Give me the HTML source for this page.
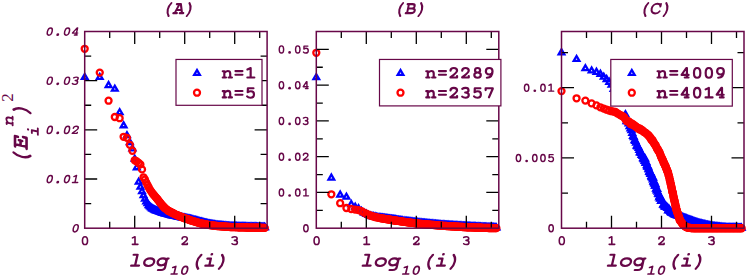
<!DOCTYPE html>
<html><head><meta charset="utf-8"><title>plot</title><style>
html,body{margin:0;padding:0;background:#fff}
svg{display:block}
.sup2{font-family:"Liberation Serif",serif;font-weight:normal;font-size:17px;fill:#670748}
</style></head><body><svg width="747" height="278" viewBox="0 0 747 278"><rect width="747" height="278" fill="#fff"/><defs><path id="t" d="M0,-3.29 L-2.85,1.65 L2.85,1.65 Z" fill="none" stroke="#0000ff" stroke-width="2.3" stroke-linejoin="miter"/><circle id="c" r="3.0" fill="none" stroke="#ff0000" stroke-width="2.3"/><g id="g48"><path d="M300-566C190-566 137-460 137-300C137-140 190-35 300-35C410-35 463-140 463-300C463-460 410-566 300-566Z"/></g><g id="g49"><path d="M300-50L300-566L135-486M131-50L489-50"/></g><g id="g50"><path d="M113-420C113-510 195-566 285-566C380-566 449-505 449-420C449-330 370-270 111-62L111-50L449-50L449-125"/></g><g id="g51"><path d="M115-515C160-550 220-566 285-566C375-566 437-512 437-440C437-365 375-318 265-318C385-318 451-262 451-180C451-92 380-35 280-35C200-35 145-58 113-95"/></g><g id="g52"><path d="M375-50L375-566L345-566L103-200L103-190L460-190M265-50L457-50"/></g><g id="g53"><path d="M445-551L160-551L150-325C200-368 255-385 310-385C408-385 471-312 471-212C471-105 398-35 290-35C212-35 152-62 120-105"/></g><g id="g55"><path d="M115-445L115-551L479-551L479-520L285-50"/></g><g id="g56"><path d="M300-566C215-566 170-510 170-440C170-365 225-318 300-318C375-318 430-365 430-440C430-510 385-566 300-566ZM300-318C200-318 134-258 134-178C134-95 200-35 300-35C400-35 466-95 466-178C466-258 400-318 300-318Z"/></g><g id="g57"><path d="M468-390C468-285 395-215 297-215C195-215 125-290 125-390C125-492 195-566 297-566C400-566 468-492 468-390C468-190 385-48 180-38"/></g><g id="g46"><circle cx="300" cy="-78" r="100" fill="currentColor" stroke="none"/></g><g id="g61"><path d="M121-397L479-397M121-195L479-195"/></g><g id="g110"><path d="M70-389L150-389L150-50M150-290C200-370 260-404 325-404C410-404 452-355 452-270L452-50M70-50L235-50M370-50L540-50"/></g><g id="g108"><path d="M127-576L300-576L300-50M127-50L473-50"/></g><g id="g111"><path d="M300-404C170-404 80-325 80-220C80-115 170-35 300-35C430-35 520-115 520-220C520-325 430-404 300-404Z"/></g><g id="g103"><path d="M275-404C160-404 80-330 80-232C80-135 160-62 275-62C390-62 465-135 465-232C465-330 390-404 275-404ZM530-389L465-389L465 30C465 115 410 158 320 158L175 158"/></g><g id="g105"><path d="M147-389L300-389L300-50M127-50L473-50"/><circle cx="300" cy="-600" r="62" fill="currentColor" stroke="none"/></g><g id="g40"><path d="M431-566C345-465 315-350 315-232C315-115 345-0 431 100"/></g><g id="g41"><path d="M169-566C255-465 285-350 285-232C285-115 255-0 169 100"/></g><g id="g69"><path d="M75-512L480-512L480-395M160-512L160-50M160-290L350-290M350-355L350-225M75-50L510-50L510-190"/></g><g id="g65"><path d="M125-512L335-512L490-50M265-512L110-50M170-205L430-205M41-50L225-50M375-50L559-50"/></g><g id="g66"><path d="M80-512L330-512C425-512 468-462 468-402C468-335 420-290 330-290L150-290M150-512L150-50M330-290C455-290 523-245 523-170C523-92 455-50 350-50L80-50"/></g><g id="g67"><path d="M500-385L500-512M500-430C455-500 385-530 310-530C170-530 72-425 72-281C72-140 170-32 310-32C400-32 470-68 510-140"/></g></defs><use href="#t" x="84.7" y="77.3"/><use href="#t" x="99.75" y="77.3"/><use href="#t" x="108.56" y="85.4"/><use href="#t" x="114.8" y="89"/><use href="#t" x="119.65" y="112.5"/><use href="#t" x="123.61" y="125.6"/><use href="#t" x="126.95" y="135.5"/><use href="#t" x="129.85" y="142.5"/><use href="#t" x="132.41" y="148.8"/><use href="#t" x="134.7" y="159"/><use href="#t" x="136.77" y="167.6"/><use href="#t" x="138.66" y="182"/><use href="#t" x="140.4" y="187"/><use href="#t" x="142.01" y="191.5"/><use href="#t" x="143.5" y="195.5"/><use href="#t" x="144.91" y="199"/><use href="#t" x="146.22" y="201.8"/><use href="#t" x="147.46" y="203.55"/><use href="#t" x="148.64" y="205.39"/><use href="#t" x="149.75" y="206.57"/><use href="#t" x="150.81" y="207.53"/><use href="#t" x="151.82" y="208.44"/><use href="#t" x="152.79" y="209.04"/><use href="#t" x="153.71" y="209.56"/><use href="#t" x="154.6" y="210.06"/><use href="#t" x="155.45" y="210.49"/><use href="#t" x="156.27" y="210.77"/><use href="#t" x="157.06" y="211.04"/><use href="#t" x="157.82" y="211.31"/><use href="#t" x="158.56" y="211.56"/><use href="#t" x="159.27" y="211.81"/><use href="#t" x="159.96" y="212.05"/><use href="#t" x="160.63" y="212.28"/><use href="#t" x="161.27" y="212.51"/><use href="#t" x="161.9" y="212.72"/><use href="#t" x="162.52" y="212.94"/><use href="#t" x="163.11" y="213.12"/><use href="#t" x="163.69" y="213.29"/><use href="#t" x="164.25" y="213.45"/><use href="#t" x="164.8" y="213.61"/><use href="#t" x="165.86" y="213.92"/><use href="#t" x="166.87" y="214.21"/><use href="#t" x="167.84" y="214.49"/><use href="#t" x="168.76" y="214.75"/><use href="#t" x="169.65" y="215.01"/><use href="#t" x="170.5" y="215.24"/><use href="#t" x="171.32" y="215.42"/><use href="#t" x="172.11" y="215.59"/><use href="#t" x="173.24" y="215.84"/><use href="#t" x="174.32" y="216.07"/><use href="#t" x="175.35" y="216.29"/><use href="#t" x="176.33" y="216.5"/><use href="#t" x="177.26" y="216.71"/><use href="#t" x="178.16" y="216.9"/><use href="#t" x="179.02" y="217.09"/><use href="#t" x="179.85" y="217.27"/><use href="#t" x="180.65" y="217.42"/><use href="#t" x="181.68" y="217.62"/><use href="#t" x="182.65" y="217.8"/><use href="#t" x="183.59" y="217.98"/><use href="#t" x="184.48" y="218.15"/><use href="#t" x="185.34" y="218.31"/><use href="#t" x="186.17" y="218.47"/><use href="#t" x="186.97" y="218.62"/><use href="#t" x="187.92" y="218.81"/><use href="#t" x="188.84" y="218.98"/><use href="#t" x="189.72" y="219.15"/><use href="#t" x="190.56" y="219.35"/><use href="#t" x="191.38" y="219.57"/><use href="#t" x="192.16" y="219.78"/><use href="#t" x="193.07" y="220.02"/><use href="#t" x="193.93" y="220.25"/><use href="#t" x="194.77" y="220.47"/><use href="#t" x="195.57" y="220.69"/><use href="#t" x="196.35" y="220.89"/><use href="#t" x="197.22" y="221.13"/><use href="#t" x="198.06" y="221.35"/><use href="#t" x="198.87" y="221.56"/><use href="#t" x="199.64" y="221.77"/><use href="#t" x="200.5" y="222"/><use href="#t" x="201.32" y="222.2"/><use href="#t" x="202.12" y="222.4"/><use href="#t" x="202.97" y="222.61"/><use href="#t" x="203.8" y="222.82"/><use href="#t" x="204.6" y="223.01"/><use href="#t" x="205.45" y="223.22"/><use href="#t" x="206.27" y="223.42"/><use href="#t" x="207.06" y="223.62"/><use href="#t" x="207.89" y="223.83"/><use href="#t" x="208.7" y="224.02"/><use href="#t" x="209.55" y="224.15"/><use href="#t" x="210.36" y="224.28"/><use href="#t" x="211.21" y="224.42"/><use href="#t" x="212.03" y="224.55"/><use href="#t" x="212.87" y="224.69"/><use href="#t" x="213.69" y="224.82"/><use href="#t" x="214.53" y="224.95"/><use href="#t" x="215.34" y="225.08"/><use href="#t" x="216.17" y="225.22"/><use href="#t" x="216.97" y="225.33"/><use href="#t" x="217.79" y="225.4"/><use href="#t" x="218.63" y="225.48"/><use href="#t" x="219.43" y="225.55"/><use href="#t" x="220.25" y="225.63"/><use href="#t" x="221.08" y="225.7"/><use href="#t" x="221.88" y="225.78"/><use href="#t" x="222.68" y="225.85"/><use href="#t" x="223.5" y="225.93"/><use href="#t" x="224.32" y="226"/><use href="#t" x="225.14" y="226.08"/><use href="#t" x="225.97" y="226.16"/><use href="#t" x="226.77" y="226.23"/><use href="#t" x="227.57" y="226.3"/><use href="#t" x="228.37" y="226.38"/><use href="#t" x="229.17" y="226.45"/><use href="#t" x="229.99" y="226.51"/><use href="#t" x="230.81" y="226.53"/><use href="#t" x="231.63" y="226.56"/><use href="#t" x="232.44" y="226.58"/><use href="#t" x="233.24" y="226.6"/><use href="#t" x="234.06" y="226.63"/><use href="#t" x="234.87" y="226.65"/><use href="#t" x="235.68" y="226.68"/><use href="#t" x="236.49" y="226.7"/><use href="#t" x="237.3" y="226.72"/><use href="#t" x="238.11" y="226.75"/><use href="#t" x="238.91" y="226.77"/><use href="#t" x="239.72" y="226.8"/><use href="#t" x="240.53" y="226.82"/><use href="#t" x="241.34" y="226.84"/><use href="#t" x="242.15" y="226.87"/><use href="#t" x="242.95" y="226.89"/><use href="#t" x="243.75" y="226.92"/><use href="#t" x="244.55" y="226.94"/><use href="#t" x="245.36" y="226.96"/><use href="#t" x="246.17" y="226.99"/><use href="#t" x="246.98" y="227.01"/><use href="#t" x="247.79" y="227.03"/><use href="#t" x="248.59" y="227.06"/><use href="#t" x="249.4" y="227.08"/><use href="#t" x="250.2" y="227.1"/><use href="#t" x="251.01" y="227.12"/><use href="#t" x="251.81" y="227.13"/><use href="#t" x="252.62" y="227.14"/><use href="#t" x="253.42" y="227.16"/><use href="#t" x="254.22" y="227.17"/><use href="#t" x="255.03" y="227.19"/><use href="#t" x="255.83" y="227.2"/><use href="#t" x="256.64" y="227.21"/><use href="#t" x="257.44" y="227.23"/><use href="#t" x="258.24" y="227.24"/><use href="#t" x="259.04" y="227.26"/><use href="#t" x="259.85" y="227.27"/><use href="#t" x="260.65" y="227.28"/><use href="#t" x="261.45" y="227.3"/><use href="#t" x="262.25" y="227.31"/><use href="#t" x="263.06" y="227.32"/><use href="#t" x="263.86" y="227.34"/><use href="#t" x="264.66" y="227.35"/><use href="#t" x="264.8" y="227.35"/><use href="#c" x="84.7" y="48.8"/><use href="#c" x="99.75" y="72.6"/><use href="#c" x="108.56" y="100.7"/><use href="#c" x="114.8" y="117"/><use href="#c" x="119.65" y="118.2"/><use href="#c" x="123.61" y="136.8"/><use href="#c" x="126.95" y="137.9"/><use href="#c" x="129.85" y="144.8"/><use href="#c" x="132.41" y="150.8"/><use href="#c" x="134.7" y="160.3"/><use href="#c" x="136.77" y="161.5"/><use href="#c" x="138.66" y="163"/><use href="#c" x="140.4" y="164.4"/><use href="#c" x="142.01" y="169.4"/><use href="#c" x="143.5" y="177.3"/><use href="#c" x="144.91" y="179.5"/><use href="#c" x="146.22" y="182.4"/><use href="#c" x="147.46" y="185"/><use href="#c" x="148.64" y="187.25"/><use href="#c" x="149.75" y="189.33"/><use href="#c" x="150.81" y="190.94"/><use href="#c" x="151.82" y="192.36"/><use href="#c" x="152.79" y="193.7"/><use href="#c" x="153.71" y="194.79"/><use href="#c" x="154.6" y="195.84"/><use href="#c" x="155.45" y="196.84"/><use href="#c" x="156.27" y="197.81"/><use href="#c" x="157.06" y="198.74"/><use href="#c" x="157.82" y="199.66"/><use href="#c" x="158.56" y="200.65"/><use href="#c" x="159.27" y="201.61"/><use href="#c" x="159.96" y="202.54"/><use href="#c" x="160.63" y="203.34"/><use href="#c" x="161.27" y="204.1"/><use href="#c" x="161.9" y="204.84"/><use href="#c" x="162.52" y="205.56"/><use href="#c" x="163.11" y="206.25"/><use href="#c" x="163.69" y="206.93"/><use href="#c" x="164.25" y="207.51"/><use href="#c" x="164.8" y="207.96"/><use href="#c" x="165.86" y="208.84"/><use href="#c" x="166.87" y="209.67"/><use href="#c" x="167.84" y="210.47"/><use href="#c" x="168.76" y="210.99"/><use href="#c" x="169.65" y="211.44"/><use href="#c" x="170.5" y="211.88"/><use href="#c" x="171.32" y="212.3"/><use href="#c" x="172.11" y="212.71"/><use href="#c" x="172.87" y="213.1"/><use href="#c" x="173.61" y="213.47"/><use href="#c" x="174.32" y="213.84"/><use href="#c" x="175.35" y="214.36"/><use href="#c" x="176.33" y="214.83"/><use href="#c" x="177.26" y="215.22"/><use href="#c" x="178.16" y="215.59"/><use href="#c" x="179.02" y="215.95"/><use href="#c" x="179.85" y="216.29"/><use href="#c" x="180.65" y="216.62"/><use href="#c" x="181.42" y="216.94"/><use href="#c" x="182.17" y="217.24"/><use href="#c" x="183.12" y="217.64"/><use href="#c" x="184.04" y="218.01"/><use href="#c" x="184.92" y="218.32"/><use href="#c" x="185.76" y="218.62"/><use href="#c" x="186.57" y="218.9"/><use href="#c" x="187.35" y="219.17"/><use href="#c" x="188.11" y="219.44"/><use href="#c" x="189.02" y="219.76"/><use href="#c" x="189.89" y="220.06"/><use href="#c" x="190.73" y="220.36"/><use href="#c" x="191.54" y="220.64"/><use href="#c" x="192.31" y="220.89"/><use href="#c" x="193.21" y="221.16"/><use href="#c" x="194.08" y="221.42"/><use href="#c" x="194.91" y="221.67"/><use href="#c" x="195.71" y="221.91"/><use href="#c" x="196.48" y="222.14"/><use href="#c" x="197.34" y="222.4"/><use href="#c" x="198.18" y="222.65"/><use href="#c" x="198.98" y="222.89"/><use href="#c" x="199.75" y="223.13"/><use href="#c" x="200.6" y="223.32"/><use href="#c" x="201.42" y="223.48"/><use href="#c" x="202.21" y="223.64"/><use href="#c" x="203.07" y="223.81"/><use href="#c" x="203.89" y="223.98"/><use href="#c" x="204.68" y="224.14"/><use href="#c" x="205.53" y="224.31"/><use href="#c" x="206.35" y="224.47"/><use href="#c" x="207.14" y="224.63"/><use href="#c" x="207.97" y="224.79"/><use href="#c" x="208.77" y="224.95"/><use href="#c" x="209.62" y="225.08"/><use href="#c" x="210.43" y="225.18"/><use href="#c" x="211.27" y="225.28"/><use href="#c" x="212.09" y="225.39"/><use href="#c" x="212.93" y="225.49"/><use href="#c" x="213.75" y="225.59"/><use href="#c" x="214.58" y="225.7"/><use href="#c" x="215.39" y="225.8"/><use href="#c" x="216.22" y="225.9"/><use href="#c" x="217.02" y="226"/><use href="#c" x="217.84" y="226.06"/><use href="#c" x="218.67" y="226.13"/><use href="#c" x="219.47" y="226.19"/><use href="#c" x="220.29" y="226.25"/><use href="#c" x="221.12" y="226.32"/><use href="#c" x="221.95" y="226.38"/><use href="#c" x="222.76" y="226.44"/><use href="#c" x="223.57" y="226.51"/><use href="#c" x="224.39" y="226.57"/><use href="#c" x="225.21" y="226.63"/><use href="#c" x="226.04" y="226.7"/><use href="#c" x="226.86" y="226.76"/><use href="#c" x="227.69" y="226.82"/><use href="#c" x="228.51" y="226.89"/><use href="#c" x="229.33" y="226.95"/><use href="#c" x="230.15" y="227"/><use href="#c" x="230.97" y="227.03"/><use href="#c" x="231.78" y="227.05"/><use href="#c" x="232.58" y="227.08"/><use href="#c" x="233.4" y="227.1"/><use href="#c" x="234.22" y="227.13"/><use href="#c" x="235.02" y="227.15"/><use href="#c" x="235.84" y="227.18"/><use href="#c" x="236.65" y="227.2"/><use href="#c" x="237.47" y="227.22"/><use href="#c" x="238.28" y="227.25"/><use href="#c" x="239.09" y="227.27"/><use href="#c" x="239.89" y="227.3"/><use href="#c" x="240.7" y="227.32"/><use href="#c" x="241.5" y="227.35"/><use href="#c" x="242.31" y="227.37"/><use href="#c" x="243.12" y="227.39"/><use href="#c" x="243.93" y="227.42"/><use href="#c" x="244.74" y="227.44"/><use href="#c" x="245.55" y="227.47"/><use href="#c" x="246.35" y="227.49"/><use href="#c" x="247.16" y="227.51"/><use href="#c" x="247.96" y="227.54"/><use href="#c" x="248.77" y="227.56"/><use href="#c" x="249.58" y="227.59"/><use href="#c" x="250.38" y="227.61"/><use href="#c" x="251.19" y="227.62"/><use href="#c" x="252" y="227.63"/><use href="#c" x="252.81" y="227.65"/><use href="#c" x="253.61" y="227.66"/><use href="#c" x="254.41" y="227.68"/><use href="#c" x="255.22" y="227.69"/><use href="#c" x="256.03" y="227.7"/><use href="#c" x="256.83" y="227.72"/><use href="#c" x="257.63" y="227.73"/><use href="#c" x="258.43" y="227.74"/><use href="#c" x="259.23" y="227.76"/><use href="#c" x="260.04" y="227.77"/><use href="#c" x="260.84" y="227.79"/><use href="#c" x="261.65" y="227.8"/><use href="#c" x="262.45" y="227.81"/><use href="#c" x="263.25" y="227.83"/><use href="#c" x="264.05" y="227.84"/><use href="#c" x="264.8" y="227.85"/><path d="M109.7,228.2v-6.5M109.7,31.5v6.5M134.7,228.2v-12.5M134.7,31.5v12.5M159.7,228.2v-6.5M159.7,31.5v6.5M184.7,228.2v-12.5M184.7,31.5v12.5M209.7,228.2v-6.5M209.7,31.5v6.5M234.7,228.2v-12.5M234.7,31.5v12.5M259.7,228.2v-6.5M259.7,31.5v6.5M84.7,179.02h12.5M267.1,179.02h-12.5M84.7,129.85h12.5M267.1,129.85h-12.5M84.7,80.67h12.5M267.1,80.67h-12.5M84.7,203.61h6.5M267.1,203.61h-6.5M84.7,154.44h6.5M267.1,154.44h-6.5M84.7,105.26h6.5M267.1,105.26h-6.5M84.7,56.09h6.5M267.1,56.09h-6.5" stroke="#000" stroke-width="1.3" fill="none"/><rect x="84.7" y="31.5" width="182.4" height="196.7" fill="none" stroke="#670748" stroke-width="1.5"/><rect x="176" y="59.45" width="86" height="45.85" fill="#fff" stroke="#670748" stroke-width="1.2"/><use href="#t" x="197" y="73.3"/><use href="#c" x="197" y="92.7"/><g transform="translate(221.40,78.40) scale(0.01950,0.01840)" fill="none" stroke="#670748" color="#670748" stroke-width="112" stroke-linecap="round" stroke-linejoin="round"><use href="#g110" x="0"/><use href="#g61" x="600"/><use href="#g49" x="1200"/></g><g transform="translate(221.40,98.30) scale(0.01950,0.01840)" fill="none" stroke="#670748" color="#670748" stroke-width="112" stroke-linecap="round" stroke-linejoin="round"><use href="#g110" x="0"/><use href="#g61" x="600"/><use href="#g53" x="1200"/></g><g transform="translate(80.35,245.10) scale(0.01550,0.01480)" fill="none" stroke="#670748" color="#670748" stroke-width="104" stroke-linecap="round" stroke-linejoin="round"><use href="#g48" x="0"/></g><g transform="translate(130.35,245.10) scale(0.01550,0.01480)" fill="none" stroke="#670748" color="#670748" stroke-width="104" stroke-linecap="round" stroke-linejoin="round"><use href="#g49" x="0"/></g><g transform="translate(180.35,245.10) scale(0.01550,0.01480)" fill="none" stroke="#670748" color="#670748" stroke-width="104" stroke-linecap="round" stroke-linejoin="round"><use href="#g50" x="0"/></g><g transform="translate(230.35,245.10) scale(0.01550,0.01480)" fill="none" stroke="#670748" color="#670748" stroke-width="104" stroke-linecap="round" stroke-linejoin="round"><use href="#g51" x="0"/></g><g transform="translate(70.46,232.40) scale(0.01440,0.01370) skewX(-12)" fill="none" stroke="#670748" color="#670748" stroke-width="104" stroke-linecap="round" stroke-linejoin="round"><use href="#g48" x="0"/></g><g transform="translate(44.54,183.22) scale(0.01440,0.01370) skewX(-12)" fill="none" stroke="#670748" color="#670748" stroke-width="104" stroke-linecap="round" stroke-linejoin="round"><use href="#g48" x="0"/><use href="#g46" x="600"/><use href="#g48" x="1200"/><use href="#g49" x="1800"/></g><g transform="translate(44.54,134.05) scale(0.01440,0.01370) skewX(-12)" fill="none" stroke="#670748" color="#670748" stroke-width="104" stroke-linecap="round" stroke-linejoin="round"><use href="#g48" x="0"/><use href="#g46" x="600"/><use href="#g48" x="1200"/><use href="#g50" x="1800"/></g><g transform="translate(44.54,84.87) scale(0.01440,0.01370) skewX(-12)" fill="none" stroke="#670748" color="#670748" stroke-width="104" stroke-linecap="round" stroke-linejoin="round"><use href="#g48" x="0"/><use href="#g46" x="600"/><use href="#g48" x="1200"/><use href="#g51" x="1800"/></g><g transform="translate(44.54,35.70) scale(0.01440,0.01370) skewX(-12)" fill="none" stroke="#670748" color="#670748" stroke-width="104" stroke-linecap="round" stroke-linejoin="round"><use href="#g48" x="0"/><use href="#g46" x="600"/><use href="#g48" x="1200"/><use href="#g52" x="1800"/></g><g transform="translate(128.10,266.70) scale(0.02230,0.02080) skewX(-12)" fill="none" stroke="#670748" color="#670748" stroke-width="104" stroke-linecap="round" stroke-linejoin="round"><use href="#g108" x="0"/><use href="#g111" x="600"/><use href="#g103" x="1200"/></g><g transform="translate(168.84,274.70) scale(0.01650,0.01470) skewX(-12)" fill="none" stroke="#670748" color="#670748" stroke-width="104" stroke-linecap="round" stroke-linejoin="round"><use href="#g49" x="0"/><use href="#g48" x="600"/></g><g transform="translate(188.94,266.70) scale(0.02230,0.02080) skewX(-12)" fill="none" stroke="#670748" color="#670748" stroke-width="104" stroke-linecap="round" stroke-linejoin="round"><use href="#g40" x="0"/><use href="#g105" x="600"/><use href="#g41" x="1200"/></g><g transform="translate(160.73,14.10) scale(0.01930,0.01950) skewX(-12)" fill="none" stroke="#670748" color="#670748" stroke-width="104" stroke-linecap="round" stroke-linejoin="round"><use href="#g40" x="0"/><use href="#g65" x="600"/><use href="#g41" x="1200"/></g><use href="#t" x="316.3" y="77.5"/><use href="#t" x="331.35" y="177.9"/><use href="#t" x="340.16" y="194.9"/><use href="#t" x="346.4" y="197"/><use href="#t" x="351.25" y="204.4"/><use href="#t" x="355.21" y="207"/><use href="#t" x="358.55" y="208.7"/><use href="#t" x="361.45" y="211.3"/><use href="#t" x="364.01" y="213"/><use href="#t" x="366.3" y="214.19"/><use href="#t" x="368.37" y="215.27"/><use href="#t" x="370.26" y="215.97"/><use href="#t" x="372" y="216.33"/><use href="#t" x="373.61" y="216.65"/><use href="#t" x="375.1" y="216.96"/><use href="#t" x="376.51" y="217.24"/><use href="#t" x="377.82" y="217.48"/><use href="#t" x="379.06" y="217.65"/><use href="#t" x="380.24" y="217.82"/><use href="#t" x="381.35" y="217.98"/><use href="#t" x="382.41" y="218.14"/><use href="#t" x="383.42" y="218.28"/><use href="#t" x="384.39" y="218.42"/><use href="#t" x="385.31" y="218.55"/><use href="#t" x="386.2" y="218.68"/><use href="#t" x="387.05" y="218.8"/><use href="#t" x="387.87" y="218.92"/><use href="#t" x="388.66" y="219.03"/><use href="#t" x="389.42" y="219.14"/><use href="#t" x="390.16" y="219.25"/><use href="#t" x="390.87" y="219.35"/><use href="#t" x="391.56" y="219.45"/><use href="#t" x="392.23" y="219.54"/><use href="#t" x="392.87" y="219.62"/><use href="#t" x="393.5" y="219.71"/><use href="#t" x="394.12" y="219.79"/><use href="#t" x="394.71" y="219.87"/><use href="#t" x="395.29" y="219.95"/><use href="#t" x="395.85" y="220.02"/><use href="#t" x="396.4" y="220.1"/><use href="#t" x="397.46" y="220.24"/><use href="#t" x="398.47" y="220.38"/><use href="#t" x="399.44" y="220.51"/><use href="#t" x="400.36" y="220.63"/><use href="#t" x="401.25" y="220.75"/><use href="#t" x="402.1" y="220.86"/><use href="#t" x="402.92" y="220.97"/><use href="#t" x="404.09" y="221.13"/><use href="#t" x="405.21" y="221.28"/><use href="#t" x="406.27" y="221.42"/><use href="#t" x="407.28" y="221.56"/><use href="#t" x="408.24" y="221.67"/><use href="#t" x="409.17" y="221.78"/><use href="#t" x="410.05" y="221.88"/><use href="#t" x="410.9" y="221.97"/><use href="#t" x="411.72" y="222.07"/><use href="#t" x="412.77" y="222.18"/><use href="#t" x="413.77" y="222.3"/><use href="#t" x="414.72" y="222.4"/><use href="#t" x="415.64" y="222.51"/><use href="#t" x="416.52" y="222.61"/><use href="#t" x="417.36" y="222.7"/><use href="#t" x="418.17" y="222.79"/><use href="#t" x="419.15" y="222.9"/><use href="#t" x="420.08" y="223.01"/><use href="#t" x="420.97" y="223.09"/><use href="#t" x="421.83" y="223.17"/><use href="#t" x="422.66" y="223.25"/><use href="#t" x="423.61" y="223.33"/><use href="#t" x="424.52" y="223.42"/><use href="#t" x="425.39" y="223.5"/><use href="#t" x="426.23" y="223.58"/><use href="#t" x="427.04" y="223.65"/><use href="#t" x="427.95" y="223.74"/><use href="#t" x="428.82" y="223.82"/><use href="#t" x="429.66" y="223.89"/><use href="#t" x="430.47" y="223.97"/><use href="#t" x="431.35" y="224.05"/><use href="#t" x="432.2" y="224.13"/><use href="#t" x="433.02" y="224.21"/><use href="#t" x="433.91" y="224.29"/><use href="#t" x="434.76" y="224.37"/><use href="#t" x="435.58" y="224.44"/><use href="#t" x="436.46" y="224.52"/><use href="#t" x="437.3" y="224.6"/><use href="#t" x="438.11" y="224.68"/><use href="#t" x="438.97" y="224.76"/><use href="#t" x="439.79" y="224.83"/><use href="#t" x="440.66" y="224.91"/><use href="#t" x="441.49" y="224.99"/><use href="#t" x="442.29" y="225.04"/><use href="#t" x="443.13" y="225.09"/><use href="#t" x="443.93" y="225.14"/><use href="#t" x="444.77" y="225.19"/><use href="#t" x="445.57" y="225.24"/><use href="#t" x="446.4" y="225.3"/><use href="#t" x="447.2" y="225.34"/><use href="#t" x="448.02" y="225.39"/><use href="#t" x="448.86" y="225.45"/><use href="#t" x="449.67" y="225.5"/><use href="#t" x="450.5" y="225.55"/><use href="#t" x="451.34" y="225.6"/><use href="#t" x="452.14" y="225.65"/><use href="#t" x="452.96" y="225.7"/><use href="#t" x="453.79" y="225.75"/><use href="#t" x="454.62" y="225.8"/><use href="#t" x="455.42" y="225.85"/><use href="#t" x="456.23" y="225.9"/><use href="#t" x="457.05" y="225.95"/><use href="#t" x="457.86" y="226"/><use href="#t" x="458.68" y="226.05"/><use href="#t" x="459.5" y="226.1"/><use href="#t" x="460.31" y="226.15"/><use href="#t" x="461.13" y="226.2"/><use href="#t" x="461.94" y="226.25"/><use href="#t" x="462.75" y="226.3"/><use href="#t" x="463.55" y="226.35"/><use href="#t" x="464.35" y="226.4"/><use href="#t" x="465.16" y="226.45"/><use href="#t" x="465.97" y="226.5"/><use href="#t" x="466.77" y="226.54"/><use href="#t" x="467.59" y="226.58"/><use href="#t" x="468.39" y="226.61"/><use href="#t" x="469.2" y="226.65"/><use href="#t" x="470" y="226.69"/><use href="#t" x="470.81" y="226.73"/><use href="#t" x="471.63" y="226.77"/><use href="#t" x="472.43" y="226.8"/><use href="#t" x="473.23" y="226.84"/><use href="#t" x="474.04" y="226.88"/><use href="#t" x="474.84" y="226.92"/><use href="#t" x="475.65" y="226.96"/><use href="#t" x="476.45" y="227"/><use href="#t" x="477.25" y="227.03"/><use href="#t" x="478.06" y="227.07"/><use href="#t" x="478.87" y="227.11"/><use href="#t" x="479.67" y="227.15"/><use href="#t" x="480.48" y="227.19"/><use href="#t" x="481.29" y="227.22"/><use href="#t" x="482.09" y="227.26"/><use href="#t" x="482.89" y="227.3"/><use href="#t" x="483.7" y="227.34"/><use href="#t" x="484.5" y="227.38"/><use href="#t" x="485.3" y="227.41"/><use href="#t" x="486.1" y="227.44"/><use href="#t" x="486.91" y="227.47"/><use href="#t" x="487.71" y="227.5"/><use href="#t" x="488.51" y="227.53"/><use href="#t" x="489.31" y="227.55"/><use href="#t" x="490.12" y="227.58"/><use href="#t" x="490.92" y="227.61"/><use href="#t" x="491.73" y="227.64"/><use href="#t" x="492.53" y="227.67"/><use href="#t" x="493.33" y="227.7"/><use href="#t" x="494.13" y="227.73"/><use href="#t" x="494.94" y="227.75"/><use href="#t" x="495.74" y="227.78"/><use href="#t" x="496.4" y="227.81"/><use href="#c" x="316.3" y="52.8"/><use href="#c" x="331.35" y="194.3"/><use href="#c" x="340.16" y="203.2"/><use href="#c" x="346.4" y="208"/><use href="#c" x="351.25" y="209"/><use href="#c" x="355.21" y="209.6"/><use href="#c" x="358.55" y="210.1"/><use href="#c" x="361.45" y="211.2"/><use href="#c" x="364.01" y="212.6"/><use href="#c" x="366.3" y="213.77"/><use href="#c" x="368.37" y="214.72"/><use href="#c" x="370.26" y="215.5"/><use href="#c" x="372" y="216.11"/><use href="#c" x="373.61" y="216.65"/><use href="#c" x="375.1" y="217.01"/><use href="#c" x="376.51" y="217.35"/><use href="#c" x="377.82" y="217.66"/><use href="#c" x="379.06" y="217.94"/><use href="#c" x="380.24" y="218.13"/><use href="#c" x="381.35" y="218.31"/><use href="#c" x="382.41" y="218.48"/><use href="#c" x="383.42" y="218.64"/><use href="#c" x="384.39" y="218.79"/><use href="#c" x="385.31" y="218.94"/><use href="#c" x="386.2" y="219.08"/><use href="#c" x="387.05" y="219.22"/><use href="#c" x="387.87" y="219.35"/><use href="#c" x="388.66" y="219.47"/><use href="#c" x="389.42" y="219.6"/><use href="#c" x="390.16" y="219.71"/><use href="#c" x="390.87" y="219.83"/><use href="#c" x="391.56" y="219.94"/><use href="#c" x="392.23" y="220.04"/><use href="#c" x="392.87" y="220.15"/><use href="#c" x="393.5" y="220.24"/><use href="#c" x="394.12" y="220.33"/><use href="#c" x="394.71" y="220.42"/><use href="#c" x="395.29" y="220.5"/><use href="#c" x="395.85" y="220.59"/><use href="#c" x="396.4" y="220.67"/><use href="#c" x="397.46" y="220.82"/><use href="#c" x="398.47" y="220.97"/><use href="#c" x="399.44" y="221.11"/><use href="#c" x="400.36" y="221.24"/><use href="#c" x="401.25" y="221.37"/><use href="#c" x="402.1" y="221.5"/><use href="#c" x="402.92" y="221.62"/><use href="#c" x="404.09" y="221.79"/><use href="#c" x="405.21" y="221.95"/><use href="#c" x="406.27" y="222.11"/><use href="#c" x="407.28" y="222.25"/><use href="#c" x="408.24" y="222.38"/><use href="#c" x="409.17" y="222.49"/><use href="#c" x="410.05" y="222.6"/><use href="#c" x="410.9" y="222.7"/><use href="#c" x="411.72" y="222.8"/><use href="#c" x="412.77" y="222.93"/><use href="#c" x="413.77" y="223.05"/><use href="#c" x="414.72" y="223.16"/><use href="#c" x="415.64" y="223.27"/><use href="#c" x="416.52" y="223.38"/><use href="#c" x="417.36" y="223.48"/><use href="#c" x="418.17" y="223.58"/><use href="#c" x="419.15" y="223.7"/><use href="#c" x="420.08" y="223.81"/><use href="#c" x="420.97" y="223.89"/><use href="#c" x="421.83" y="223.96"/><use href="#c" x="422.66" y="224.03"/><use href="#c" x="423.61" y="224.12"/><use href="#c" x="424.52" y="224.2"/><use href="#c" x="425.39" y="224.27"/><use href="#c" x="426.23" y="224.35"/><use href="#c" x="427.04" y="224.42"/><use href="#c" x="427.95" y="224.5"/><use href="#c" x="428.82" y="224.58"/><use href="#c" x="429.66" y="224.65"/><use href="#c" x="430.47" y="224.72"/><use href="#c" x="431.35" y="224.8"/><use href="#c" x="432.2" y="224.87"/><use href="#c" x="433.02" y="224.95"/><use href="#c" x="433.91" y="225.02"/><use href="#c" x="434.76" y="225.1"/><use href="#c" x="435.58" y="225.17"/><use href="#c" x="436.46" y="225.25"/><use href="#c" x="437.3" y="225.32"/><use href="#c" x="438.11" y="225.39"/><use href="#c" x="438.97" y="225.47"/><use href="#c" x="439.79" y="225.54"/><use href="#c" x="440.66" y="225.62"/><use href="#c" x="441.49" y="225.69"/><use href="#c" x="442.29" y="225.74"/><use href="#c" x="443.13" y="225.79"/><use href="#c" x="443.93" y="225.84"/><use href="#c" x="444.77" y="225.89"/><use href="#c" x="445.57" y="225.94"/><use href="#c" x="446.4" y="226"/><use href="#c" x="447.2" y="226.04"/><use href="#c" x="448.02" y="226.09"/><use href="#c" x="448.86" y="226.15"/><use href="#c" x="449.67" y="226.2"/><use href="#c" x="450.5" y="226.25"/><use href="#c" x="451.34" y="226.3"/><use href="#c" x="452.14" y="226.35"/><use href="#c" x="452.96" y="226.4"/><use href="#c" x="453.79" y="226.45"/><use href="#c" x="454.62" y="226.5"/><use href="#c" x="455.42" y="226.55"/><use href="#c" x="456.23" y="226.6"/><use href="#c" x="457.05" y="226.65"/><use href="#c" x="457.86" y="226.7"/><use href="#c" x="458.68" y="226.75"/><use href="#c" x="459.5" y="226.8"/><use href="#c" x="460.31" y="226.85"/><use href="#c" x="461.13" y="226.9"/><use href="#c" x="461.94" y="226.95"/><use href="#c" x="462.75" y="227"/><use href="#c" x="463.55" y="227.05"/><use href="#c" x="464.35" y="227.1"/><use href="#c" x="465.16" y="227.15"/><use href="#c" x="465.97" y="227.2"/><use href="#c" x="466.77" y="227.23"/><use href="#c" x="467.59" y="227.26"/><use href="#c" x="468.39" y="227.29"/><use href="#c" x="469.2" y="227.32"/><use href="#c" x="470" y="227.35"/><use href="#c" x="470.81" y="227.38"/><use href="#c" x="471.63" y="227.41"/><use href="#c" x="472.43" y="227.44"/><use href="#c" x="473.23" y="227.47"/><use href="#c" x="474.04" y="227.5"/><use href="#c" x="474.84" y="227.53"/><use href="#c" x="475.65" y="227.56"/><use href="#c" x="476.45" y="227.59"/><use href="#c" x="477.25" y="227.61"/><use href="#c" x="478.06" y="227.64"/><use href="#c" x="478.87" y="227.67"/><use href="#c" x="479.67" y="227.7"/><use href="#c" x="480.48" y="227.73"/><use href="#c" x="481.29" y="227.76"/><use href="#c" x="482.09" y="227.79"/><use href="#c" x="482.89" y="227.82"/><use href="#c" x="483.7" y="227.85"/><use href="#c" x="484.5" y="227.88"/><use href="#c" x="485.3" y="227.91"/><use href="#c" x="486.11" y="227.92"/><use href="#c" x="486.91" y="227.94"/><use href="#c" x="487.71" y="227.96"/><use href="#c" x="488.52" y="227.98"/><use href="#c" x="489.32" y="227.99"/><use href="#c" x="490.13" y="228.01"/><use href="#c" x="490.93" y="228.03"/><use href="#c" x="491.73" y="228.04"/><use href="#c" x="492.54" y="228.06"/><use href="#c" x="493.34" y="228.08"/><use href="#c" x="494.15" y="228.1"/><use href="#c" x="494.95" y="228.11"/><use href="#c" x="495.75" y="228.13"/><use href="#c" x="496.4" y="228.14"/><path d="M341.3,228.2v-6.5M341.3,31.5v6.5M366.3,228.2v-12.5M366.3,31.5v12.5M391.3,228.2v-6.5M391.3,31.5v6.5M416.3,228.2v-12.5M416.3,31.5v12.5M441.3,228.2v-6.5M441.3,31.5v6.5M466.3,228.2v-12.5M466.3,31.5v12.5M491.3,228.2v-6.5M491.3,31.5v6.5M316.3,192.44h12.5M498.8,192.44h-12.5M316.3,156.67h12.5M498.8,156.67h-12.5M316.3,120.91h12.5M498.8,120.91h-12.5M316.3,85.15h12.5M498.8,85.15h-12.5M316.3,49.38h12.5M498.8,49.38h-12.5M316.3,210.32h6.5M498.8,210.32h-6.5M316.3,174.55h6.5M498.8,174.55h-6.5M316.3,138.79h6.5M498.8,138.79h-6.5M316.3,103.03h6.5M498.8,103.03h-6.5M316.3,67.26h6.5M498.8,67.26h-6.5" stroke="#000" stroke-width="1.3" fill="none"/><rect x="316.3" y="31.5" width="182.5" height="196.7" fill="none" stroke="#670748" stroke-width="1.5"/><rect x="379.5" y="59.45" width="121.4" height="46.45" fill="#fff" stroke="#670748" stroke-width="1.2"/><use href="#t" x="400.5" y="73.3"/><use href="#c" x="400.5" y="92.7"/><g transform="translate(424.90,78.40) scale(0.01950,0.01840)" fill="none" stroke="#670748" color="#670748" stroke-width="112" stroke-linecap="round" stroke-linejoin="round"><use href="#g110" x="0"/><use href="#g61" x="600"/><use href="#g50" x="1200"/><use href="#g50" x="1800"/><use href="#g56" x="2400"/><use href="#g57" x="3000"/></g><g transform="translate(424.90,98.30) scale(0.01950,0.01840)" fill="none" stroke="#670748" color="#670748" stroke-width="112" stroke-linecap="round" stroke-linejoin="round"><use href="#g110" x="0"/><use href="#g61" x="600"/><use href="#g50" x="1200"/><use href="#g51" x="1800"/><use href="#g53" x="2400"/><use href="#g55" x="3000"/></g><g transform="translate(311.95,245.10) scale(0.01550,0.01480)" fill="none" stroke="#670748" color="#670748" stroke-width="104" stroke-linecap="round" stroke-linejoin="round"><use href="#g48" x="0"/></g><g transform="translate(361.95,245.10) scale(0.01550,0.01480)" fill="none" stroke="#670748" color="#670748" stroke-width="104" stroke-linecap="round" stroke-linejoin="round"><use href="#g49" x="0"/></g><g transform="translate(411.95,245.10) scale(0.01550,0.01480)" fill="none" stroke="#670748" color="#670748" stroke-width="104" stroke-linecap="round" stroke-linejoin="round"><use href="#g50" x="0"/></g><g transform="translate(461.95,245.10) scale(0.01550,0.01480)" fill="none" stroke="#670748" color="#670748" stroke-width="104" stroke-linecap="round" stroke-linejoin="round"><use href="#g51" x="0"/></g><g transform="translate(301.84,232.30) scale(0.01360,0.01340)" fill="none" stroke="#670748" color="#670748" stroke-width="104" stroke-linecap="round" stroke-linejoin="round"><use href="#g48" x="0"/></g><g transform="translate(277.36,196.54) scale(0.01360,0.01340)" fill="none" stroke="#670748" color="#670748" stroke-width="104" stroke-linecap="round" stroke-linejoin="round"><use href="#g48" x="0"/><use href="#g46" x="600"/><use href="#g48" x="1200"/><use href="#g49" x="1800"/></g><g transform="translate(277.36,160.77) scale(0.01360,0.01340)" fill="none" stroke="#670748" color="#670748" stroke-width="104" stroke-linecap="round" stroke-linejoin="round"><use href="#g48" x="0"/><use href="#g46" x="600"/><use href="#g48" x="1200"/><use href="#g50" x="1800"/></g><g transform="translate(277.36,125.01) scale(0.01360,0.01340)" fill="none" stroke="#670748" color="#670748" stroke-width="104" stroke-linecap="round" stroke-linejoin="round"><use href="#g48" x="0"/><use href="#g46" x="600"/><use href="#g48" x="1200"/><use href="#g51" x="1800"/></g><g transform="translate(277.36,89.25) scale(0.01360,0.01340)" fill="none" stroke="#670748" color="#670748" stroke-width="104" stroke-linecap="round" stroke-linejoin="round"><use href="#g48" x="0"/><use href="#g46" x="600"/><use href="#g48" x="1200"/><use href="#g52" x="1800"/></g><g transform="translate(277.36,53.48) scale(0.01360,0.01340)" fill="none" stroke="#670748" color="#670748" stroke-width="104" stroke-linecap="round" stroke-linejoin="round"><use href="#g48" x="0"/><use href="#g46" x="600"/><use href="#g48" x="1200"/><use href="#g53" x="1800"/></g><g transform="translate(359.70,266.70) scale(0.02230,0.02080) skewX(-12)" fill="none" stroke="#670748" color="#670748" stroke-width="104" stroke-linecap="round" stroke-linejoin="round"><use href="#g108" x="0"/><use href="#g111" x="600"/><use href="#g103" x="1200"/></g><g transform="translate(400.44,274.70) scale(0.01650,0.01470) skewX(-12)" fill="none" stroke="#670748" color="#670748" stroke-width="104" stroke-linecap="round" stroke-linejoin="round"><use href="#g49" x="0"/><use href="#g48" x="600"/></g><g transform="translate(420.54,266.70) scale(0.02230,0.02080) skewX(-12)" fill="none" stroke="#670748" color="#670748" stroke-width="104" stroke-linecap="round" stroke-linejoin="round"><use href="#g40" x="0"/><use href="#g105" x="600"/><use href="#g41" x="1200"/></g><g transform="translate(392.38,14.10) scale(0.01930,0.01950) skewX(-12)" fill="none" stroke="#670748" color="#670748" stroke-width="104" stroke-linecap="round" stroke-linejoin="round"><use href="#g40" x="0"/><use href="#g66" x="600"/><use href="#g41" x="1200"/></g><use href="#t" x="561.5" y="52.7"/><use href="#t" x="576.55" y="59.3"/><use href="#t" x="585.36" y="68.5"/><use href="#t" x="591.6" y="70.8"/><use href="#t" x="596.45" y="72.2"/><use href="#t" x="600.41" y="74.2"/><use href="#t" x="603.75" y="77"/><use href="#t" x="606.65" y="79.4"/><use href="#t" x="609.21" y="82.2"/><use href="#t" x="611.5" y="85"/><use href="#t" x="613.57" y="89.2"/><use href="#t" x="615.46" y="87.22"/><use href="#t" x="617.2" y="91.85"/><use href="#t" x="618.81" y="92.77"/><use href="#t" x="620.3" y="94.4"/><use href="#t" x="621.71" y="96.01"/><use href="#t" x="623.02" y="95.68"/><use href="#t" x="624.26" y="98.47"/><use href="#t" x="625.44" y="114.62"/><use href="#t" x="626.55" y="121.39"/><use href="#t" x="627.61" y="121.46"/><use href="#t" x="628.62" y="123.71"/><use href="#t" x="629.59" y="126.42"/><use href="#t" x="630.51" y="128.61"/><use href="#t" x="631.4" y="130.54"/><use href="#t" x="632.25" y="133.27"/><use href="#t" x="633.07" y="136.1"/><use href="#t" x="633.86" y="137.43"/><use href="#t" x="634.62" y="140.41"/><use href="#t" x="635.36" y="141.21"/><use href="#t" x="636.07" y="143.07"/><use href="#t" x="636.76" y="145.86"/><use href="#t" x="637.43" y="146.34"/><use href="#t" x="638.07" y="146.73"/><use href="#t" x="638.7" y="148.31"/><use href="#t" x="639.32" y="150.22"/><use href="#t" x="639.91" y="152.7"/><use href="#t" x="640.49" y="151.91"/><use href="#t" x="641.05" y="153.09"/><use href="#t" x="641.6" y="155.31"/><use href="#t" x="642.14" y="154.68"/><use href="#t" x="642.66" y="156.26"/><use href="#t" x="643.17" y="158.34"/><use href="#t" x="643.67" y="159.07"/><use href="#t" x="644.16" y="159.6"/><use href="#t" x="644.64" y="161.08"/><use href="#t" x="645.1" y="158.86"/><use href="#t" x="645.56" y="163.24"/><use href="#t" x="646.01" y="162.38"/><use href="#t" x="646.45" y="162.74"/><use href="#t" x="646.88" y="165.46"/><use href="#t" x="647.3" y="166.79"/><use href="#t" x="647.71" y="166.69"/><use href="#t" x="648.12" y="167.04"/><use href="#t" x="648.52" y="168.93"/><use href="#t" x="648.91" y="169.74"/><use href="#t" x="649.29" y="171.92"/><use href="#t" x="649.67" y="172.18"/><use href="#t" x="650.04" y="172.52"/><use href="#t" x="650.41" y="174.16"/><use href="#t" x="650.77" y="173.79"/><use href="#t" x="651.12" y="173.99"/><use href="#t" x="651.47" y="176.29"/><use href="#t" x="651.81" y="177.22"/><use href="#t" x="652.15" y="177.41"/><use href="#t" x="652.48" y="177.8"/><use href="#t" x="652.8" y="179.6"/><use href="#t" x="653.13" y="178.02"/><use href="#t" x="653.44" y="181.74"/><use href="#t" x="653.75" y="182.41"/><use href="#t" x="654.06" y="181.33"/><use href="#t" x="654.37" y="183.68"/><use href="#t" x="654.67" y="183.57"/><use href="#t" x="654.96" y="185.92"/><use href="#t" x="655.25" y="184.2"/><use href="#t" x="655.54" y="185.98"/><use href="#t" x="656.1" y="188.89"/><use href="#t" x="656.65" y="190.7"/><use href="#t" x="657.19" y="189.09"/><use href="#t" x="657.71" y="191.93"/><use href="#t" x="658.22" y="193.99"/><use href="#t" x="658.72" y="194.42"/><use href="#t" x="659.21" y="197.65"/><use href="#t" x="659.69" y="196.37"/><use href="#t" x="660.16" y="198.91"/><use href="#t" x="660.61" y="198.37"/><use href="#t" x="661.06" y="201.29"/><use href="#t" x="661.5" y="200.71"/><use href="#t" x="661.93" y="201.08"/><use href="#t" x="662.56" y="200.87"/><use href="#t" x="663.17" y="204.9"/><use href="#t" x="663.77" y="205.01"/><use href="#t" x="664.35" y="205.93"/><use href="#t" x="664.91" y="206.97"/><use href="#t" x="665.46" y="206.86"/><use href="#t" x="666.17" y="206.75"/><use href="#t" x="666.86" y="207.35"/><use href="#t" x="667.53" y="208.08"/><use href="#t" x="668.18" y="210.74"/><use href="#t" x="668.81" y="208.88"/><use href="#t" x="669.42" y="210.33"/><use href="#t" x="670.01" y="211.22"/><use href="#t" x="670.73" y="212.19"/><use href="#t" x="671.43" y="212.96"/><use href="#t" x="672.11" y="212.89"/><use href="#t" x="672.89" y="213.41"/><use href="#t" x="673.65" y="213.91"/><use href="#t" x="674.38" y="214.39"/><use href="#t" x="675.09" y="214.83"/><use href="#t" x="675.89" y="215.13"/><use href="#t" x="676.66" y="215.41"/><use href="#t" x="677.51" y="215.72"/><use href="#t" x="678.32" y="216.02"/><use href="#t" x="679.11" y="216.31"/><use href="#t" x="679.87" y="216.58"/><use href="#t" x="680.69" y="216.89"/><use href="#t" x="681.48" y="217.18"/><use href="#t" x="682.25" y="217.46"/><use href="#t" x="683.07" y="217.76"/><use href="#t" x="683.86" y="218.05"/><use href="#t" x="684.62" y="218.32"/><use href="#t" x="685.43" y="218.62"/><use href="#t" x="686.21" y="218.91"/><use href="#t" x="686.96" y="219.18"/><use href="#t" x="687.75" y="219.47"/><use href="#t" x="688.52" y="219.75"/><use href="#t" x="689.32" y="220.04"/><use href="#t" x="690.09" y="220.33"/><use href="#t" x="690.89" y="220.62"/><use href="#t" x="691.66" y="220.91"/><use href="#t" x="692.45" y="221.21"/><use href="#t" x="693.22" y="221.49"/><use href="#t" x="694.02" y="221.78"/><use href="#t" x="694.78" y="222.07"/><use href="#t" x="695.56" y="222.36"/><use href="#t" x="696.32" y="222.64"/><use href="#t" x="697.09" y="222.92"/><use href="#t" x="697.88" y="223.14"/><use href="#t" x="698.68" y="223.34"/><use href="#t" x="699.48" y="223.54"/><use href="#t" x="700.26" y="223.73"/><use href="#t" x="701.05" y="223.93"/><use href="#t" x="701.84" y="224.12"/><use href="#t" x="702.64" y="224.32"/><use href="#t" x="703.44" y="224.52"/><use href="#t" x="704.25" y="224.71"/><use href="#t" x="705.05" y="224.91"/><use href="#t" x="705.85" y="225.09"/><use href="#t" x="706.65" y="225.25"/><use href="#t" x="707.45" y="225.41"/><use href="#t" x="708.25" y="225.56"/><use href="#t" x="709.04" y="225.72"/><use href="#t" x="709.83" y="225.88"/><use href="#t" x="710.64" y="226.03"/><use href="#t" x="711.43" y="226.19"/><use href="#t" x="712.23" y="226.35"/><use href="#t" x="713.03" y="226.51"/><use href="#t" x="713.82" y="226.63"/><use href="#t" x="714.63" y="226.71"/><use href="#t" x="715.44" y="226.79"/><use href="#t" x="716.24" y="226.87"/><use href="#t" x="717.05" y="226.95"/><use href="#t" x="717.86" y="227.02"/><use href="#t" x="718.67" y="227.1"/><use href="#t" x="719.46" y="227.18"/><use href="#t" x="720.26" y="227.26"/><use href="#t" x="721.06" y="227.34"/><use href="#t" x="721.87" y="227.41"/><use href="#t" x="722.67" y="227.49"/><use href="#t" x="723.48" y="227.57"/><use href="#t" x="724.28" y="227.65"/><use href="#t" x="725.08" y="227.71"/><use href="#t" x="725.89" y="227.72"/><use href="#t" x="726.69" y="227.74"/><use href="#t" x="727.5" y="227.76"/><use href="#t" x="728.3" y="227.77"/><use href="#t" x="729.11" y="227.79"/><use href="#t" x="729.91" y="227.81"/><use href="#t" x="730.72" y="227.82"/><use href="#t" x="731.52" y="227.84"/><use href="#t" x="732.32" y="227.86"/><use href="#t" x="733.12" y="227.87"/><use href="#t" x="733.93" y="227.89"/><use href="#t" x="734.73" y="227.9"/><use href="#t" x="735.54" y="227.92"/><use href="#t" x="736.34" y="227.94"/><use href="#t" x="737.14" y="227.95"/><use href="#t" x="737.95" y="227.97"/><use href="#t" x="738.75" y="227.99"/><use href="#t" x="739.55" y="228"/><use href="#t" x="740.35" y="228.02"/><use href="#t" x="741.15" y="228.04"/><use href="#t" x="741.6" y="228.05"/><use href="#c" x="561.5" y="91.1"/><use href="#c" x="576.55" y="98.3"/><use href="#c" x="585.36" y="100.6"/><use href="#c" x="591.6" y="103.4"/><use href="#c" x="596.45" y="105.4"/><use href="#c" x="600.41" y="107.3"/><use href="#c" x="603.75" y="108.6"/><use href="#c" x="606.65" y="109.7"/><use href="#c" x="609.21" y="110.5"/><use href="#c" x="611.5" y="111.2"/><use href="#c" x="613.57" y="111.56"/><use href="#c" x="615.46" y="112"/><use href="#c" x="617.2" y="113.21"/><use href="#c" x="618.81" y="114.17"/><use href="#c" x="620.3" y="115.15"/><use href="#c" x="621.71" y="115.74"/><use href="#c" x="623.02" y="116.45"/><use href="#c" x="624.26" y="117.39"/><use href="#c" x="625.44" y="119.39"/><use href="#c" x="626.55" y="121"/><use href="#c" x="627.61" y="121.44"/><use href="#c" x="628.62" y="121.43"/><use href="#c" x="629.59" y="122.21"/><use href="#c" x="630.51" y="124.11"/><use href="#c" x="631.4" y="124"/><use href="#c" x="632.25" y="123.6"/><use href="#c" x="633.07" y="124.97"/><use href="#c" x="633.86" y="124.96"/><use href="#c" x="634.62" y="125.73"/><use href="#c" x="635.36" y="126.29"/><use href="#c" x="636.07" y="126.62"/><use href="#c" x="636.76" y="127.69"/><use href="#c" x="637.43" y="127.79"/><use href="#c" x="638.07" y="127.94"/><use href="#c" x="638.7" y="128.83"/><use href="#c" x="639.32" y="129.42"/><use href="#c" x="639.91" y="128.55"/><use href="#c" x="640.49" y="129.61"/><use href="#c" x="641.05" y="129.6"/><use href="#c" x="641.6" y="130.34"/><use href="#c" x="642.66" y="130.45"/><use href="#c" x="643.67" y="131.73"/><use href="#c" x="644.64" y="132.31"/><use href="#c" x="645.56" y="132.81"/><use href="#c" x="646.45" y="133.35"/><use href="#c" x="647.3" y="134.54"/><use href="#c" x="648.12" y="135.03"/><use href="#c" x="648.91" y="135.71"/><use href="#c" x="649.67" y="137.28"/><use href="#c" x="650.41" y="137.5"/><use href="#c" x="651.12" y="139.62"/><use href="#c" x="651.81" y="140.33"/><use href="#c" x="652.48" y="139.89"/><use href="#c" x="653.13" y="141.95"/><use href="#c" x="653.75" y="142.32"/><use href="#c" x="654.37" y="143.92"/><use href="#c" x="654.96" y="144.92"/><use href="#c" x="655.54" y="144.88"/><use href="#c" x="656.1" y="146.71"/><use href="#c" x="656.65" y="147.62"/><use href="#c" x="657.19" y="149.14"/><use href="#c" x="657.71" y="148.99"/><use href="#c" x="658.22" y="150.85"/><use href="#c" x="658.72" y="150.82"/><use href="#c" x="659.21" y="152.06"/><use href="#c" x="659.69" y="152.65"/><use href="#c" x="660.16" y="154.62"/><use href="#c" x="660.61" y="155.07"/><use href="#c" x="661.06" y="157.12"/><use href="#c" x="661.5" y="157.32"/><use href="#c" x="661.93" y="158.5"/><use href="#c" x="662.35" y="159.55"/><use href="#c" x="662.77" y="159.86"/><use href="#c" x="663.17" y="161.14"/><use href="#c" x="663.57" y="162.76"/><use href="#c" x="663.96" y="162.74"/><use href="#c" x="664.35" y="163.87"/><use href="#c" x="664.72" y="164.58"/><use href="#c" x="665.09" y="165.7"/><use href="#c" x="665.46" y="166.01"/><use href="#c" x="665.82" y="167.03"/><use href="#c" x="666.17" y="168.2"/><use href="#c" x="666.52" y="169.09"/><use href="#c" x="666.86" y="169.54"/><use href="#c" x="667.2" y="171.35"/><use href="#c" x="667.53" y="171.17"/><use href="#c" x="667.86" y="172.12"/><use href="#c" x="668.18" y="172.97"/><use href="#c" x="668.49" y="174.97"/><use href="#c" x="668.81" y="175.64"/><use href="#c" x="669.11" y="176.66"/><use href="#c" x="669.42" y="177.89"/><use href="#c" x="669.72" y="179.96"/><use href="#c" x="670.01" y="180.49"/><use href="#c" x="670.3" y="181.64"/><use href="#c" x="670.59" y="183.83"/><use href="#c" x="670.88" y="184.14"/><use href="#c" x="671.16" y="185.79"/><use href="#c" x="671.43" y="187.15"/><use href="#c" x="671.71" y="188.2"/><use href="#c" x="671.98" y="189.65"/><use href="#c" x="672.24" y="191.59"/><use href="#c" x="672.51" y="191.89"/><use href="#c" x="672.77" y="192.73"/><use href="#c" x="673.02" y="193.63"/><use href="#c" x="673.28" y="195.63"/><use href="#c" x="673.53" y="196.73"/><use href="#c" x="673.78" y="198.19"/><use href="#c" x="674.02" y="198.97"/><use href="#c" x="674.26" y="200.09"/><use href="#c" x="674.5" y="200.97"/><use href="#c" x="674.74" y="202.04"/><use href="#c" x="674.98" y="203.33"/><use href="#c" x="675.21" y="204.01"/><use href="#c" x="675.44" y="205.19"/><use href="#c" x="675.67" y="207.01"/><use href="#c" x="675.89" y="207.22"/><use href="#c" x="676.11" y="207.1"/><use href="#c" x="676.33" y="209.65"/><use href="#c" x="676.55" y="209.85"/><use href="#c" x="676.77" y="210.08"/><use href="#c" x="676.98" y="211.88"/><use href="#c" x="677.3" y="212.38"/><use href="#c" x="677.61" y="212.97"/><use href="#c" x="677.92" y="213.85"/><use href="#c" x="678.22" y="214.55"/><use href="#c" x="678.52" y="215.94"/><use href="#c" x="678.82" y="217.31"/><use href="#c" x="679.11" y="217.46"/><use href="#c" x="679.4" y="218.67"/><use href="#c" x="679.68" y="220.22"/><use href="#c" x="679.96" y="219.49"/><use href="#c" x="680.33" y="220.82"/><use href="#c" x="680.87" y="221.56"/><use href="#c" x="681.4" y="222.29"/><use href="#c" x="681.91" y="223"/><use href="#c" x="682.42" y="223.7"/><use href="#c" x="682.91" y="224.38"/><use href="#c" x="683.39" y="225.04"/><use href="#c" x="684.09" y="225.59"/><use href="#c" x="684.77" y="226.03"/><use href="#c" x="685.5" y="226.51"/><use href="#c" x="686.21" y="226.98"/><use href="#c" x="686.89" y="227.43"/><use href="#c" x="687.69" y="227.6"/><use href="#c" x="688.52" y="227.71"/><use href="#c" x="689.32" y="227.82"/><use href="#c" x="690.14" y="227.94"/><use href="#c" x="690.94" y="228.05"/><use href="#c" x="691.77" y="228.17"/><use href="#c" x="692.61" y="228.2"/><use href="#c" x="693.42" y="228.2"/><use href="#c" x="694.26" y="228.2"/><use href="#c" x="695.06" y="228.2"/><use href="#c" x="695.88" y="228.2"/><use href="#c" x="696.71" y="228.2"/><use href="#c" x="697.51" y="228.2"/><use href="#c" x="698.32" y="228.2"/><use href="#c" x="699.14" y="228.2"/><use href="#c" x="699.97" y="228.2"/><use href="#c" x="700.8" y="228.2"/><use href="#c" x="701.6" y="228.2"/><use href="#c" x="702.41" y="228.2"/><use href="#c" x="703.22" y="228.2"/><use href="#c" x="704.03" y="228.2"/><use href="#c" x="704.84" y="228.2"/><use href="#c" x="705.65" y="228.2"/><use href="#c" x="706.46" y="228.2"/><use href="#c" x="707.27" y="228.2"/><use href="#c" x="708.07" y="228.2"/><use href="#c" x="708.9" y="228.2"/><use href="#c" x="709.71" y="228.2"/><use href="#c" x="710.52" y="228.2"/><use href="#c" x="711.33" y="228.2"/><use href="#c" x="712.14" y="228.2"/><use href="#c" x="712.95" y="228.2"/><use href="#c" x="713.77" y="228.2"/><use href="#c" x="714.57" y="228.2"/><use href="#c" x="715.39" y="228.2"/><use href="#c" x="716.19" y="228.2"/><use href="#c" x="717" y="228.2"/><use href="#c" x="717.81" y="228.2"/><use href="#c" x="718.62" y="228.2"/><use href="#c" x="719.43" y="228.2"/><use href="#c" x="720.25" y="228.2"/><use href="#c" x="721.06" y="228.2"/><use href="#c" x="721.87" y="228.2"/><use href="#c" x="722.67" y="228.2"/><use href="#c" x="723.48" y="228.2"/><use href="#c" x="724.29" y="228.2"/><use href="#c" x="725.09" y="228.2"/><use href="#c" x="725.9" y="228.2"/><use href="#c" x="726.7" y="228.2"/><use href="#c" x="727.51" y="228.2"/><use href="#c" x="728.31" y="228.2"/><use href="#c" x="729.12" y="228.2"/><use href="#c" x="729.92" y="228.2"/><use href="#c" x="730.73" y="228.2"/><use href="#c" x="731.53" y="228.2"/><use href="#c" x="732.33" y="228.2"/><use href="#c" x="733.13" y="228.2"/><use href="#c" x="733.94" y="228.2"/><use href="#c" x="734.74" y="228.2"/><use href="#c" x="735.54" y="228.2"/><use href="#c" x="736.35" y="228.2"/><use href="#c" x="737.15" y="228.2"/><use href="#c" x="737.95" y="228.2"/><use href="#c" x="738.75" y="228.2"/><use href="#c" x="739.56" y="228.2"/><use href="#c" x="740.36" y="228.2"/><use href="#c" x="741.16" y="228.2"/><use href="#c" x="741.6" y="228.2"/><path d="M586.5,228.2v-6.5M586.5,31.5v6.5M611.5,228.2v-12.5M611.5,31.5v12.5M636.5,228.2v-6.5M636.5,31.5v6.5M661.5,228.2v-12.5M661.5,31.5v12.5M686.5,228.2v-6.5M686.5,31.5v6.5M711.5,228.2v-12.5M711.5,31.5v12.5M736.5,228.2v-6.5M736.5,31.5v6.5M561.5,157.95h12.5M744,157.95h-12.5M561.5,87.7h12.5M744,87.7h-12.5M561.5,193.07h6.5M744,193.07h-6.5M561.5,122.83h6.5M744,122.83h-6.5M561.5,52.57h6.5M744,52.57h-6.5" stroke="#000" stroke-width="1.3" fill="none"/><rect x="561.5" y="31.5" width="182.5" height="196.7" fill="none" stroke="#670748" stroke-width="1.5"/><rect x="610.8" y="59.45" width="121.5" height="46.65" fill="#fff" stroke="#670748" stroke-width="1.2"/><use href="#t" x="631.8" y="73.3"/><use href="#c" x="631.8" y="92.7"/><g transform="translate(656.20,78.40) scale(0.01950,0.01840)" fill="none" stroke="#670748" color="#670748" stroke-width="112" stroke-linecap="round" stroke-linejoin="round"><use href="#g110" x="0"/><use href="#g61" x="600"/><use href="#g52" x="1200"/><use href="#g48" x="1800"/><use href="#g48" x="2400"/><use href="#g57" x="3000"/></g><g transform="translate(656.20,98.30) scale(0.01950,0.01840)" fill="none" stroke="#670748" color="#670748" stroke-width="112" stroke-linecap="round" stroke-linejoin="round"><use href="#g110" x="0"/><use href="#g61" x="600"/><use href="#g52" x="1200"/><use href="#g48" x="1800"/><use href="#g49" x="2400"/><use href="#g52" x="3000"/></g><g transform="translate(557.15,245.10) scale(0.01550,0.01480)" fill="none" stroke="#670748" color="#670748" stroke-width="104" stroke-linecap="round" stroke-linejoin="round"><use href="#g48" x="0"/></g><g transform="translate(607.15,245.10) scale(0.01550,0.01480)" fill="none" stroke="#670748" color="#670748" stroke-width="104" stroke-linecap="round" stroke-linejoin="round"><use href="#g49" x="0"/></g><g transform="translate(657.15,245.10) scale(0.01550,0.01480)" fill="none" stroke="#670748" color="#670748" stroke-width="104" stroke-linecap="round" stroke-linejoin="round"><use href="#g50" x="0"/></g><g transform="translate(707.15,245.10) scale(0.01550,0.01480)" fill="none" stroke="#670748" color="#670748" stroke-width="104" stroke-linecap="round" stroke-linejoin="round"><use href="#g51" x="0"/></g><g transform="translate(547.04,232.30) scale(0.01360,0.01340)" fill="none" stroke="#670748" color="#670748" stroke-width="104" stroke-linecap="round" stroke-linejoin="round"><use href="#g48" x="0"/></g><g transform="translate(514.40,162.05) scale(0.01360,0.01340)" fill="none" stroke="#670748" color="#670748" stroke-width="104" stroke-linecap="round" stroke-linejoin="round"><use href="#g48" x="0"/><use href="#g46" x="600"/><use href="#g48" x="1200"/><use href="#g48" x="1800"/><use href="#g53" x="2400"/></g><g transform="translate(522.56,91.80) scale(0.01360,0.01340)" fill="none" stroke="#670748" color="#670748" stroke-width="104" stroke-linecap="round" stroke-linejoin="round"><use href="#g48" x="0"/><use href="#g46" x="600"/><use href="#g48" x="1200"/><use href="#g49" x="1800"/></g><g transform="translate(604.90,266.70) scale(0.02230,0.02080) skewX(-12)" fill="none" stroke="#670748" color="#670748" stroke-width="104" stroke-linecap="round" stroke-linejoin="round"><use href="#g108" x="0"/><use href="#g111" x="600"/><use href="#g103" x="1200"/></g><g transform="translate(645.64,274.70) scale(0.01650,0.01470) skewX(-12)" fill="none" stroke="#670748" color="#670748" stroke-width="104" stroke-linecap="round" stroke-linejoin="round"><use href="#g49" x="0"/><use href="#g48" x="600"/></g><g transform="translate(665.74,266.70) scale(0.02230,0.02080) skewX(-12)" fill="none" stroke="#670748" color="#670748" stroke-width="104" stroke-linecap="round" stroke-linejoin="round"><use href="#g40" x="0"/><use href="#g105" x="600"/><use href="#g41" x="1200"/></g><g transform="translate(637.58,14.10) scale(0.01930,0.01950) skewX(-12)" fill="none" stroke="#670748" color="#670748" stroke-width="104" stroke-linecap="round" stroke-linejoin="round"><use href="#g40" x="0"/><use href="#g67" x="600"/><use href="#g41" x="1200"/></g><g transform="translate(27.8,164) rotate(-90)"><g transform="translate(-1.40,0.00) scale(0.02330,0.02500) skewX(-12)" fill="none" stroke="#670748" color="#670748" stroke-width="104" stroke-linecap="round" stroke-linejoin="round"><use href="#g40" x="0"/></g><g transform="translate(13.00,0.00) scale(0.02520,0.02500) skewX(-12)" fill="none" stroke="#670748" color="#670748" stroke-width="104" stroke-linecap="round" stroke-linejoin="round"><use href="#g69" x="0"/></g><g transform="translate(26.80,10.90) scale(0.01820,0.01770) skewX(-12)" fill="none" stroke="#670748" color="#670748" stroke-width="104" stroke-linecap="round" stroke-linejoin="round"><use href="#g105" x="0"/></g><g transform="translate(37.20,-14.30) scale(0.01820,0.01770) skewX(-12)" fill="none" stroke="#670748" color="#670748" stroke-width="104" stroke-linecap="round" stroke-linejoin="round"><use href="#g110" x="0"/></g><g transform="translate(47.60,0.00) scale(0.02330,0.02500) skewX(-12)" fill="none" stroke="#670748" color="#670748" stroke-width="104" stroke-linecap="round" stroke-linejoin="round"><use href="#g41" x="0"/></g><text class="sup2" x="62.2" y="-14.9">2</text></g></svg></body></html>
